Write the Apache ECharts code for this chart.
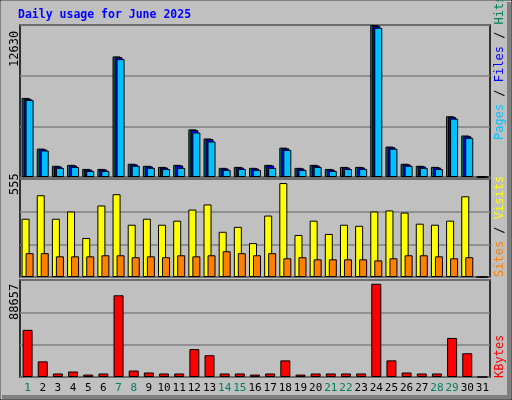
<!DOCTYPE html>
<html>
<head>
<meta charset="utf-8">
<script src="https://cdn.jsdelivr.net/npm/echarts@6/dist/echarts.min.js"></script>
<style>
  html, body { margin: 0; padding: 0; background: #c0c0c0; }
  #app { width: 512px; height: 400px; }
</style>
</head>
<body>
<div id="app"></div>
<script>
// daily values
const days = ['1','2','3','4','5','6','7','8','9','10','11','12','13','14','15','16','17','18','19','20','21','22','23','24','25','26','27','28','29','30','31']
const weekends = ['1','7','8','14','15','21','22','28','29']
const hits = [6570,2360,930,1010,670,670,10020,1100,930,840,1010,3960,3200,760,840,760,1010,2440,760,1010,670,840,840,12630,2530,1100,930,840,5050,3450,0]
const files = [6500,2300,880,960,620,620,9950,1050,880,790,960,3900,3140,710,790,710,960,2380,710,960,620,790,790,12560,2470,1050,880,790,4990,3390,0]
const pages = [6400,2200,760,840,500,500,9800,930,760,670,760,3700,2950,590,670,590,760,2250,590,840,500,670,670,12400,2350,930,760,670,4850,3250,0]
const visits = [330,463,330,371,221,405,469,296,330,296,319,382,411,256,284,192,348,532,238,319,244,296,290,371,377,365,302,296,319,457,0]
const sites = [135,135,117,117,117,123,123,112,117,112,123,117,123,146,135,123,135,106,112,100,100,100,100,94,106,123,123,117,106,112,0]
const kbytes = [43100,14300,3200,5000,2200,3200,74700,5900,4100,3200,3200,25500,19900,3200,3200,2200,3200,15200,2200,3200,3200,3200,3200,85200,15200,4100,3200,3200,35700,21700,0]
const maxHits = 12630, maxVisits = 555, maxKbytes = 88657

const mono = 'DejaVu Sans Mono'
const chart = echarts.init(document.getElementById('app'))

const grids = [
  { left: 20, top: 25, width: 470, height: 152 },
  { left: 20, top: 179, width: 470, height: 98 },
  { left: 20, top: 280, width: 470, height: 97 }
].map(g => Object.assign(g, { show: true, borderColor: '#000', borderWidth: 1.5, backgroundColor: '#c0c0c0' }))

const xAxes = [0, 1, 2].map(i => ({
  type: 'category', gridIndex: i, data: days,
  axisLine: { show: false }, axisTick: { show: false },
  axisLabel: i < 2 ? { show: false } : {
    margin: 6, interval: 0, fontFamily: mono, fontSize: 11,
    formatter: v => weekends.includes(v) ? '{w|' + v + '}' : v,
    color: '#000', rich: { w: { color: '#00805c', fontFamily: mono, fontSize: 11 } }
  }
}))

const yAxes = [maxHits, maxVisits, maxKbytes].map((m, i) => ({
  type: 'value', gridIndex: i, min: 0, max: m, interval: m / 3,
  axisLabel: { show: false }, axisLine: { show: false }, axisTick: { show: false },
  splitLine: { lineStyle: { color: '#808080', width: 1.5 } }
}))

const bar = (name, data, idx, color, w, gap) => ({
  name, type: 'bar', data, xAxisIndex: idx, yAxisIndex: idx,
  barWidth: w, barGap: gap, animation: false,
  itemStyle: { color, borderColor: '#000', borderWidth: 1 }
})

const vlabel = (x, y, rich, text) => ({
  type: 'text', x, y, rotation: Math.PI / 2,
  style: { text, rich, font: '12px ' + mono, textAlign: 'left', textVerticalAlign: 'middle', fill: '#000' }
})

chart.setOption({
  backgroundColor: '#c0c0c0',
  grid: grids,
  xAxis: xAxes,
  yAxis: yAxes,
  series: [
    bar('Hits', hits, 0, '#00805c', 8, '-75%'),
    bar('Files', files, 0, '#0000ff', 8, '-75%'),
    bar('Pages', pages, 0, '#00c0ff', 8, '-75%'),
    bar('Visits', visits, 1, '#ffff00', 8, '-50%'),
    bar('Sites', sites, 1, '#ff8000', 8, '-50%'),
    bar('KBytes', kbytes, 2, '#ff0000', 10, '0%')
  ],
  graphic: [
    { type: 'rect', shape: { x: 0.5, y: 0.5, width: 510, height: 398 }, style: { fill: 'none', stroke: '#fff', lineWidth: 1 }, z: 0 },
    { type: 'polyline', shape: { points: [[2, 397], [509, 397], [509, 2]] }, style: { stroke: '#808080', lineWidth: 4, fill: 'none' } },
    { type: 'rect', shape: { x: 0, y: 0, width: 512, height: 400 }, style: { fill: 'none', stroke: '#000', lineWidth: 1 } },
    { type: 'text', x: 18, y: 15, style: { text: 'Daily usage for June 2025', font: 'bold 11.5px ' + mono, fill: '#0000ff', textVerticalAlign: 'middle' } },
    vlabel(15, 67, {}, '12630'),
    vlabel(15, 195, {}, '555'),
    vlabel(15, 320, {}, '88657'),
    vlabel(500, 140, { p: { fill: '#00c0ff', font: '12px ' + mono }, f: { fill: '#0000ff', font: '12px ' + mono }, h: { fill: '#00805c', font: '12px ' + mono } },
      '{p|Pages} / {f|Files} / {h|Hits}'),
    vlabel(500, 277, { s: { fill: '#ff8000', font: '12px ' + mono }, v: { fill: '#ffff00', font: '12px ' + mono } },
      '{s|Sites} / {v|Visits}'),
    vlabel(500, 378, { k: { fill: '#ff0000', font: '12px ' + mono } }, '{k|KBytes}')
  ]
})
</script>
</body>
</html>
